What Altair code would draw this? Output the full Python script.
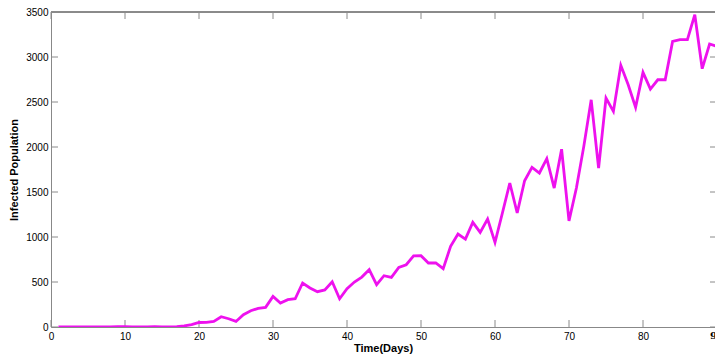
import altair as alt
import pandas as pd

days = list(range(1, 91))
infected = [
    0, 0, 0, 0, 0, 0, 0, 1, 3, 3,
    1, 0, 1, 3, 1, 1, 4, 12, 26, 50,
    51, 62, 114, 92, 62, 137, 181, 207, 218, 340,
    266, 303, 314, 489, 433, 392, 412, 503, 314, 425,
    500, 555, 637, 470, 570, 551, 662, 692, 790, 792,
    711, 711, 648, 896, 1033, 977, 1163, 1051, 1200, 940,
    1267, 1600, 1267, 1625, 1773, 1711, 1870, 1544, 1975, 1178,
    1544, 2007, 2524, 1766, 2544, 2396, 2907, 2692, 2440, 2829,
    2644, 2747, 2747, 3173, 3192, 3192, 3470, 2870, 3144, 3118,
]
x_ticks = [0, 10, 20, 30, 40, 50, 60, 70, 80]
edge_label = [90]
y_ticks = [0, 500, 1000, 1500, 2000, 2500, 3000, 3500]

W, H = 664, 315
TICK = 7
GREY = "#8a8a8a"
FONT = "DejaVu Serif"

df = pd.DataFrame({"day": days, "infected": infected})
xt = pd.DataFrame({"v": x_ticks})
yt = pd.DataFrame({"v": y_ticks})
et = pd.DataFrame({"v": edge_label, "t": [str(v) for v in edge_label]})

xscale = alt.Scale(domain=[0, 90 * W / 666], nice=False, zero=False)
yscale = alt.Scale(domain=[0, 3500], nice=False)

line = alt.Chart(df).mark_line(color="#EE11EE", strokeWidth=2.8, clip=True).encode(
    x=alt.X("day:Q", scale=xscale, title="Time(Days)",
            axis=alt.Axis(values=x_ticks, ticks=False, labelPadding=4, format="d",
                          labelFlush=False, labelOverlap=False,
                          titlePadding=1, grid=False)),
    y=alt.Y("infected:Q", scale=yscale, title="Infected Population",
            axis=alt.Axis(values=y_ticks, ticks=False, labelPadding=3, format="d",
                          labelFlush=False, labelOverlap=False,
                          titlePadding=6, grid=False)),
)

edge = alt.Chart(et).mark_text(font=FONT, fontSize=10, fontWeight="bold",
                               color="black", baseline="top", align="center").encode(
    x=alt.X("v:Q", scale=xscale), y=alt.value(H + 4), text="t:N")

border_top = alt.Chart(xt).mark_rule(color=GREY, strokeWidth=1).encode(
    x=alt.value(0), x2=alt.value(W + 2), y=alt.value(0))
xb = alt.Chart(xt).mark_rule(color=GREY, strokeWidth=1).encode(
    x=alt.X("v:Q", scale=xscale), y=alt.value(H), y2=alt.value(H - TICK))
xtop = alt.Chart(xt).mark_rule(color=GREY, strokeWidth=1).encode(
    x=alt.X("v:Q", scale=xscale), y=alt.value(0), y2=alt.value(TICK))
yl = alt.Chart(yt).mark_rule(color=GREY, strokeWidth=1).encode(
    y=alt.Y("v:Q", scale=yscale), x=alt.value(0), x2=alt.value(TICK))
yr = alt.Chart(yt).mark_rule(color=GREY, strokeWidth=1).encode(
    y=alt.Y("v:Q", scale=yscale), x=alt.value(W + 2), x2=alt.value(W + 2 - TICK))

chart = alt.layer(border_top, xb, xtop, yl, yr, line, edge).properties(
    width=W, height=H,
    autosize=alt.AutoSizeParams(type="none"),
    padding={"left": 51, "top": 12, "right": 0, "bottom": 32},
).configure_view(strokeWidth=0).configure_axis(
    domainColor=GREY,
    labelFont=FONT, labelFontSize=10, labelFontWeight="bold", labelColor="black",
    titleFont=FONT, titleFontSize=10.5, titleFontWeight="bold", titleColor="black",
).configure(background="white")

chart.save("out.html", embed_options={"renderer": "svg", "actions": False})
